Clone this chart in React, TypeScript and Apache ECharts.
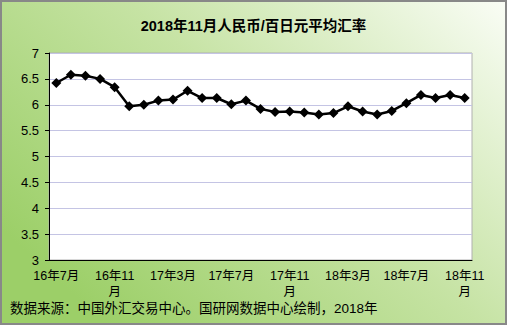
import React, { useEffect, useRef } from "react";
import * as echarts from "echarts";

const titleText = "2018年11月人民币/百日元平均汇率";
const sourceText = "数据来源：中国外汇交易中心。国研网数据中心绘制，2018年";

const months = [
  "16年7月", "16年8月", "16年9月", "16年10月", "16年11月", "16年12月",
  "17年1月", "17年2月", "17年3月", "17年4月", "17年5月", "17年6月",
  "17年7月", "17年8月", "17年9月", "17年10月", "17年11月", "17年12月",
  "18年1月", "18年2月", "18年3月", "18年4月", "18年5月", "18年6月",
  "18年7月", "18年8月", "18年9月", "18年10月", "18年11月",
];

const rates = [
  6.42, 6.58, 6.56, 6.50, 6.34, 5.97,
  6.00, 6.08, 6.10, 6.27, 6.13, 6.13,
  6.01, 6.08, 5.92, 5.86, 5.87, 5.85,
  5.81, 5.84, 5.97, 5.87, 5.81, 5.88,
  6.03, 6.19, 6.13, 6.19, 6.13,
];

const yTicks = { min: 3, max: 7, interval: 0.5 };

export default function App() {
  const ref = useRef<HTMLDivElement>(null);
  useEffect(() => {
    const chart = echarts.init(ref.current!, null, { renderer: "svg" });
    const font = '"Liberation Sans", "Noto Sans CJK SC", sans-serif';
    chart.setOption({
      animation: false,
      backgroundColor: new echarts.graphic.LinearGradient(0, 0.7, 1, 0, [
        { offset: 0, color: "#9ccf68" },
        { offset: 0.5, color: "#c6e3a4" },
        { offset: 1, color: "#fafdf6" },
      ]),
      title: {
        text: titleText,
        left: "center",
        top: 14,
        textStyle: { fontSize: 14.5, fontWeight: "bold", color: "#000", fontFamily: font },
      },
      graphic: [
        {
          type: "text",
          left: 10,
          top: 302,
          style: { text: sourceText, fontSize: 13.5, fill: "#000", fontFamily: font },
        },
        {
          type: "rect",
          shape: { x: 1, y: 1, width: 505, height: 323 },
          style: { fill: "none", stroke: "#888", lineWidth: 2 },
          silent: true,
        },
      ],
      grid: {
        left: 49,
        right: 35,
        top: 53,
        bottom: 65,
        show: true,
        backgroundColor: "#fff",
        borderColor: "#b0b0b0",
        borderWidth: 1,
      },
      xAxis: {
        type: "category",
        data: months,
        boundaryGap: true,
        axisLine: { lineStyle: { color: "#000", width: 1 } },
        axisTick: { inside: true, length: 4, interval: 0, lineStyle: { color: "#000" } },
        axisLabel: {
          interval: 3,
          color: "#000",
          fontSize: 12.5,
          fontFamily: font,
          margin: 8,
          lineHeight: 16,
          formatter: (v: string) => (v.length > 5 ? v.slice(0, 5) + "\n" + v.slice(5) : v),
        },
        splitLine: { show: false },
      },
      yAxis: {
        type: "value",
        min: yTicks.min,
        max: yTicks.max,
        interval: yTicks.interval,
        axisLine: { show: true, lineStyle: { color: "#000", width: 1 } },
        axisTick: { show: true, length: 4, lineStyle: { color: "#000" } },
        axisLabel: { color: "#000", fontSize: 13, fontFamily: font, margin: 10 },
        splitLine: { lineStyle: { color: "#c4c4e4", width: 1 } },
      },
      series: [
        {
          type: "line",
          data: rates,
          symbol: "diamond",
          symbolSize: 10,
          showAllSymbol: true,
          lineStyle: { color: "#000", width: 2.5 },
          itemStyle: { color: "#000" },
        },
      ],
    });
    return () => chart.dispose();
  }, []);
  return (
    <div
      ref={ref}
      style={{ position: "fixed", left: 0, top: 0, width: 507, height: 325 }}
    />
  );
}
